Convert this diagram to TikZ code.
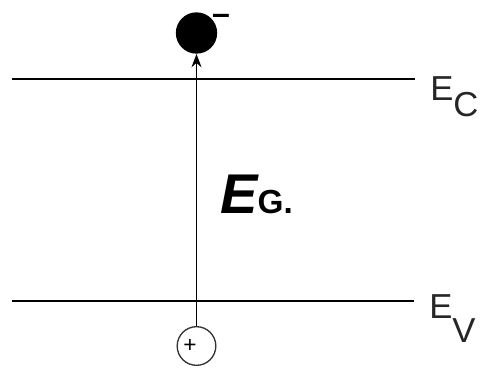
\documentclass[tikz,border=0pt]{standalone}
\usepackage{fontspec}
\setmainfont{Liberation Sans}
\usepackage{tikz}
\usetikzlibrary{arrows.meta,positioning,calc}

\begin{document}
\begin{tikzpicture}[
  x=0.75pt, y=-0.75pt,
  >={Stealth[length=10pt,width=7.5pt]},
  level/.style={line width=2.2pt, shorten >=11pt},
  lbl/.style={anchor=base west, inner sep=0pt, font=\fontsize{26}{30}\selectfont, text=black!85},
  carrier/.style={circle, inner sep=0pt, minimum size=29pt},
  arr/.style={->, line width=1.2pt}]
  \useasboundingbox (0,0) rectangle (482,368);
  % band edges
  \coordinate (cl) at (12,79);
  \coordinate (vl) at (12,301);
  \node[lbl] (ec) at (430,100) {E\raisebox{-12pt}{C}};
  \node[lbl] (ev) at (429,318) {E\raisebox{-18pt}{V}};
  \draw[level] (cl) -- (cl -| ec.west);
  \draw[level] (vl) -- (vl -| ev.west);
  % carriers
  \node[carrier, fill=black, minimum size=31pt] (electron) at (196.5,33) {};
  \node[font=\bfseries\fontsize{24}{26}\selectfont, inner sep=0pt] (minus) at (221,19) {–};
  \node[carrier, draw, line width=1pt, draw=black!80] (hole) at (196.5,346) {};
  \node[font=\fontsize{17}{18}\selectfont, inner sep=0pt] (plus) at (190,346) {+};
  \draw[arr] (hole) -- (electron);
  % gap
  \node[anchor=base west, inner sep=0pt] (eg) at (220,213) {\bfseries\fontsize{42}{46}\selectfont\itshape E\fontsize{25}{28}\selectfont\upshape G.};
\end{tikzpicture}
\end{document}
